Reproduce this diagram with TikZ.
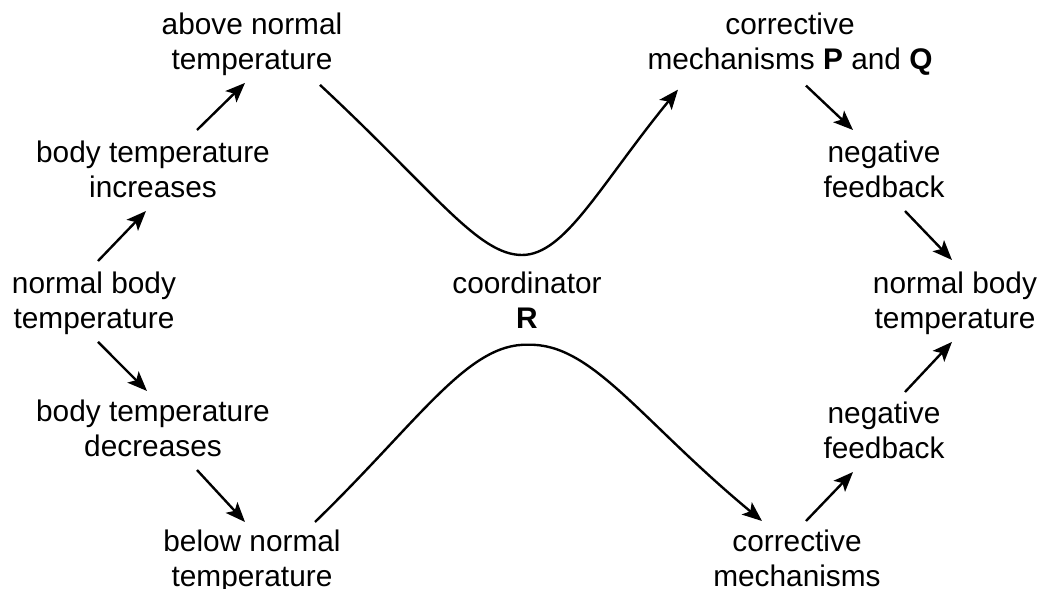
\documentclass[tikz,border=0pt]{standalone}
\usepackage{fontspec}
\setmainfont{Liberation Sans}
\usetikzlibrary{arrows.meta}

\begin{document}
\begin{tikzpicture}[
    x=0.0125cm, y=-0.0125cm,
    txt/.style={align=center, anchor=north, inner sep=0pt, font=\fontsize{10.6}{12.45}\selectfont},
    conn/.style={-{Stealth[length=7pt,width=5.6pt,inset=1.6pt]}, line width=0.85pt},
]
    \useasboundingbox (0,0) rectangle (1039,589);

    % Left side
    \node[txt] (aboveT) at (252,12) {above normal\\temperature};
    \node[txt] (incr) at (153,140) {body temperature\\increases};
    \node[txt] (normL) at (94,271) {normal body\\temperature};
    \node[txt] (decr) at (153,399) {body temperature\\decreases};
    \node[txt] (belowT) at (252,529) {below normal\\temperature};

    % Centre
    \node[txt] (coord) at (527,271) {coordinator\\\textbf{R}};

    % Right side
    \node[txt] (corrPQ) at (790,12) {corrective\\mechanisms \textbf{P} and \textbf{Q}};
    \node[txt] (negT) at (884,140) {negative\\feedback};
    \node[txt] (normR) at (955,271) {normal body\\temperature};
    \node[txt] (negB) at (884,401) {negative\\feedback};
    \node[txt] (corr) at (797,529) {corrective\\mechanisms};

    % Left arrows
    \draw[conn] ([shift={(4,-10)}]normL.north) -- ([shift={(-7,13)}]incr.south);
    \draw[conn] ([shift={(44,-10)}]incr.north) -- ([shift={(-7,7)}]aboveT.south);
    \draw[conn] ([shift={(4,7)}]normL.south) -- ([shift={(-6,-8)}]decr.north);
    \draw[conn] ([shift={(44,13)}]decr.south) -- ([shift={(-7,-7)}]belowT.north);

    % Right arrows
    \draw[conn] ([shift={(16,10)}]corrPQ.south) -- ([shift={(-31,-10)}]negT.north);
    \draw[conn] ([shift={(21,13)}]negT.south) -- ([shift={(-3,-11)}]normR.north);
    \draw[conn] ([shift={(9,-8)}]corr.north) -- ([shift={(-31,13)}]negB.south);
    \draw[conn] ([shift={(21,-9)}]negB.north) -- ([shift={(-3,7)}]normR.south);

    % Curves through the coordinator
    \draw[conn] ([shift={(68,9)}]aboveT.south)
        .. controls (435,192) and (478,255) .. ([shift={(-5,-16)}]coord.north)
        .. controls (565,255) and (600,185) .. ([shift={(-112,14)}]corrPQ.south);
    \draw[conn] ([shift={(63,-7)}]belowT.north)
        .. controls (420,420) and (468,343) .. ([shift={(1,16)}]coord.south)
        .. controls (592,343) and (640,420) .. ([shift={(-35,-8)}]corr.north);
\end{tikzpicture}
\end{document}
